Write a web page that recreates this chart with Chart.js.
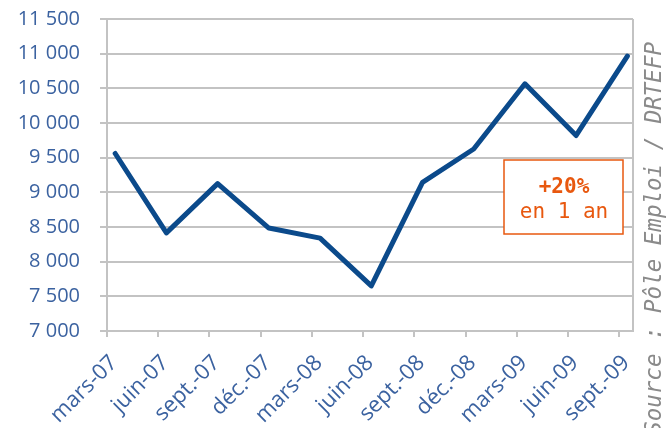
<!DOCTYPE html>
<html>
<head>
<meta charset="utf-8">
<script src="https://cdn.jsdelivr.net/npm/chart.js@4/dist/chart.umd.min.js"></script>
<style>
html,body{margin:0;padding:0;background:#fff;}
#wrap{width:668px;height:428px;position:relative;}
</style>
</head>
<body>
<div id="wrap"><canvas id="c" width="668" height="428"></canvas></div>
<script>
const categories = ["mars-07","juin-07","sept.-07","déc.-07","mars-08","juin-08","sept.-08","déc.-08","mars-09","juin-09","sept.-09"];
const values = [9560, 8415, 9125, 8485, 8340, 7650, 9145, 9625, 10565, 9820, 10965];
const yTicks = [7000, 7500, 8000, 8500, 9000, 9500, 10000, 10500, 11000, 11500];
const annotationLines = ["+20%", "en 1 an"];
const sourceText = "Source : Pôle Emploi / DRTEFP";

const AXIS_GRAY = '#c3c3c3';
const LABEL_BLUE = '#3b62a0';
const ORANGE = '#e8580f';
const LINE_BLUE = '#0b4a8b';
const X_SHIFT = 0.16;

const extras = {
  id: 'extras',
  afterDraw(chart) {
    const ctx = chart.ctx;
    const a = chart.chartArea;
    ctx.save();
    ctx.strokeStyle = AXIS_GRAY;
    ctx.lineWidth = 2;
    ctx.beginPath();
    ctx.moveTo(a.right, a.top);
    ctx.lineTo(a.right, a.bottom);
    ctx.stroke();
    ctx.fillStyle = '#fff';
    ctx.fillRect(504, 160, 119, 74);
    ctx.strokeStyle = ORANGE;
    ctx.lineWidth = 1.5;
    ctx.strokeRect(504, 160, 119, 74);
    ctx.fillStyle = ORANGE;
    ctx.textAlign = 'center';
    ctx.textBaseline = 'alphabetic';
    ctx.font = 'bold 21px "DejaVu Sans Mono"';
    ctx.fillText(annotationLines[0], 564, 193);
    ctx.font = '21px "DejaVu Sans Mono"';
    ctx.fillText(annotationLines[1], 564, 218);
    ctx.translate(655, 42);
    ctx.rotate(-Math.PI / 2);
    ctx.fillStyle = '#8a8a8a';
    ctx.font = 'italic 22.5px "DejaVu Sans Mono"';
    ctx.textAlign = 'right';
    ctx.textBaseline = 'middle';
    ctx.fillText(sourceText, 0, 0);
    ctx.restore();
  }
};

new Chart(document.getElementById('c'), {
  type: 'line',
  data: {
    datasets: [{
      data: values.map((v, i) => ({x: i, y: v})),
      borderColor: LINE_BLUE,
      borderWidth: 5,
      pointRadius: 0,
      tension: 0,
      fill: false,
      borderJoinStyle: 'round',
      borderCapStyle: 'round'
    }]
  },
  options: {
    responsive: false,
    animation: false,
    events: [],
    layout: {padding: {top: 19, right: 35, left: 0, bottom: 0}},
    plugins: {legend: {display: false}, tooltip: {enabled: false}},
    scales: {
      x: {
        type: 'linear',
        min: -X_SHIFT,
        max: 10.11,
        afterBuildTicks(scale) {
          scale.ticks = categories.map((c, i) => ({value: i - X_SHIFT}));
        },
        afterFit(scale) { scale.height = 428 - 331; scale.paddingLeft = 0; scale.paddingRight = 0; },
        ticks: {
          autoSkip: false,
          maxRotation: 45,
          minRotation: 45,
          color: LABEL_BLUE,
          font: {family: 'Open Sans', size: 22},
          padding: 13,
          labelOffset: 7,
          callback: (v, i) => categories[i]
        },
        grid: {drawOnChartArea: false, drawTicks: true, tickLength: 6, color: AXIS_GRAY, lineWidth: 2},
        border: {color: AXIS_GRAY, width: 2}
      },
      y: {
        min: 7000,
        max: 11500,
        afterBuildTicks(scale) {
          scale.ticks = yTicks.map(v => ({value: v}));
        },
        afterFit(scale) { scale.width = 107; scale.paddingTop = 0; scale.paddingBottom = 0; },
        ticks: {
          color: LABEL_BLUE,
          font: {family: 'Open Sans', size: 20},
          padding: 20,
          callback: v => String(v).replace(/\B(?=(\d{3})+(?!\d))/g, ' ')
        },
        grid: {color: AXIS_GRAY, lineWidth: 2, tickLength: 7, drawTicks: true},
        border: {color: AXIS_GRAY, width: 2}
      }
    }
  },
  plugins: [extras]
});
</script>
</body>
</html>
